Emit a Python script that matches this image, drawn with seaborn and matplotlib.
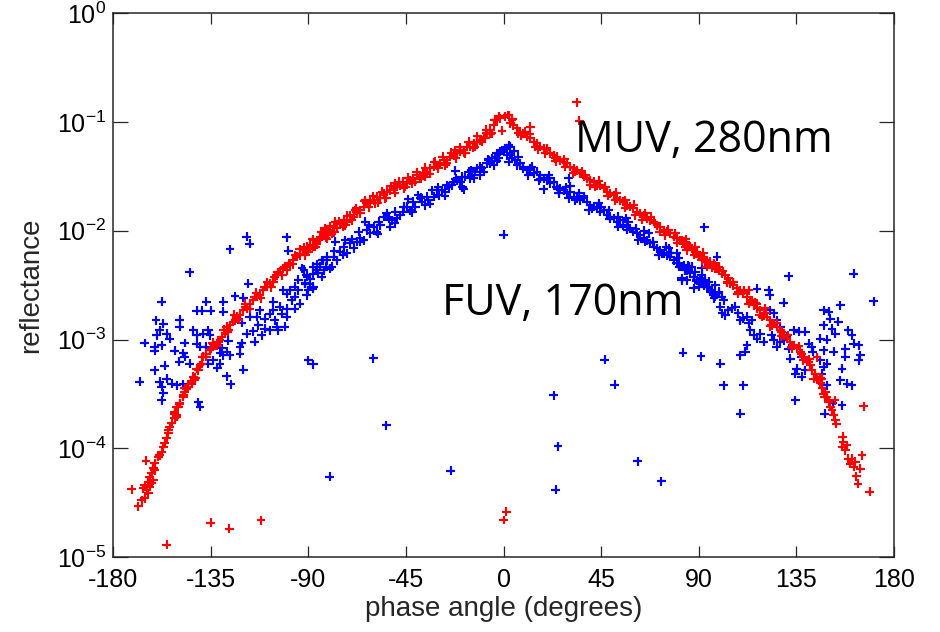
import numpy as np
import pandas as pd
import matplotlib
matplotlib.use("Agg")
import matplotlib.pyplot as plt
import seaborn as sns
from matplotlib.ticker import NullLocator

# ---------------- data (angle in degrees, log10 reflectance) ----------------
# MUV 280 nm (red)
muv_left_angle = [
    -93.7, -92.2, -90.6, -89.1, -87.6, -86.0, -84.5, -83.0, -81.4, -79.9,
    -78.3, -76.8, -75.3, -73.7, -72.2, -70.7, -69.1, -67.6, -66.1, -64.5,
    -63.0, -61.5, -59.9, -58.4, -56.8, -55.3, -53.8, -52.2, -50.7, -49.2,
    -47.6, -46.1, -44.5, -43.0, -41.5, -39.9, -38.4, -36.9, -35.3, -33.8,
    -32.2, -30.7, -29.2, -27.6, -26.1, -24.6, -23.0, -21.5, -20.0, -18.4,
    -16.9, -15.4, -13.8, -12.3, -10.7, -9.2, -7.7, -6.1, -4.6, -3.1,
    -2.3, -1.5,
    -91.4, -86.8, -82.2, -77.6, -73.0, -68.3, -63.7, -59.1, -54.5, -49.9,
    -45.3, -40.7, -36.1, -31.5, -26.9, -22.3, -17.7, -13.1, -8.4, -5.4,
    -92.0, -90.0, -88.0, -86.0, -84.0, -82.0, -80.0, -78.0, -76.0, -74.0,
    -72.0, -70.0, -68.0, -66.0, -64.0, -62.0, -60.0, -58.0, -56.0, -54.0,
    -52.0, -50.0, -48.0, -46.0, -44.0, -42.0, -40.0, -38.0, -36.0, -34.0,
    -32.0, -30.0, -28.0, -26.0, -24.0, -22.0, -20.0, -18.0, -16.0, -14.0,
    -12.0, -10.0, -8.0, -6.0, -4.0,
]
muv_left_log = [
    -2.224, -2.178, -2.147, -2.162, -2.086, -2.101, -2.055, -2.024, -2.040, -1.994,
    -1.963, -1.978, -1.932, -1.902, -1.917, -1.856, -1.871, -1.825, -1.810, -1.779,
    -1.748, -1.733, -1.718, -1.687, -1.702, -1.656, -1.641, -1.626, -1.610, -1.595,
    -1.580, -1.549, -1.564, -1.534, -1.518, -1.488, -1.503, -1.472, -1.457, -1.426,
    -1.411, -1.396, -1.380, -1.350, -1.350, -1.319, -1.304, -1.288, -1.273, -1.258,
    -1.227, -1.227, -1.196, -1.181, -1.166, -1.135, -1.104, -1.074, -1.028, -0.982,
    -0.945, -0.966,
    -2.224, -2.147, -1.978, -1.917, -1.948, -1.810, -1.718, -1.748, -1.702, -1.564,
    -1.595, -1.549, -1.503, -1.365, -1.396, -1.258, -1.288, -1.227, -1.150, -1.104,
    -2.150, -2.195, -2.080, -2.125, -2.010, -2.065, -1.960, -2.015, -1.910, -1.965,
    -1.860, -1.905, -1.790, -1.840, -1.730, -1.785, -1.680, -1.740, -1.640, -1.695,
    -1.590, -1.650, -1.550, -1.610, -1.510, -1.565, -1.460, -1.520, -1.420, -1.475,
    -1.370, -1.425, -1.320, -1.380, -1.280, -1.335, -1.230, -1.285, -1.180, -1.235,
    -1.130, -1.180, -1.070, -1.110, -0.980,
]
muv_wing_angle = [
    -79.2, -81.5, -83.8, -86.1, -87.7, -89.2, -90.8, -92.3, -93.8, -95.4,
    -96.9, -98.4, -100.0, -101.5, -103.1, -104.6, -106.1, -107.7, -109.2, -110.7,
    -112.3, -113.8, -115.3, -116.9, -118.4, -120.0, -121.5, -123.0, -124.6, -126.1,
    -126.9, -128.4, -129.9, -130.7, -132.3, -133.8, -135.3, -136.9, -138.4, -139.9,
    -140.7, -142.2, -143.8, -145.3, -146.9, -147.6, -149.2, -150.7, -151.5, -150.7,
    -81.0, -85.4, -90.0, -96.1, -100.8, -105.4, -110.0, -114.6, -119.2, -123.8,
    -127.6, -131.5, -134.6, -139.2, -141.5, -143.0, -146.1,
    -143.8, -145.3, -146.9, -147.6, -149.2, -149.9, -151.5, -150.7, -151.5, -153.0,
    -153.8, -154.5, -154.5, -155.3, -156.1, -156.8, -157.6, -158.4, -159.2, -160.7,
    -161.5, -162.2, -163.0, -161.5, -163.8, -165.3, -166.1, -164.5, -163.8, -165.3,
    -166.8, -168.4, -171.4, -164.8, -134.9, -126.4, -111.8, -155.3, -163.0, -162.2, -160.7,
    -94.0, -97.0, -99.0, -102.0, -104.0, -107.0, -109.0, -112.0, -114.0, -117.0,
    -119.0, -122.0, -124.0, -127.0, -129.0, -132.0, -134.0, -137.0, -139.0, -142.0, -144.0,
]
muv_wing_log = [
    -2.025, -2.071, -2.055, -2.101, -2.147, -2.132, -2.193, -2.178, -2.209, -2.239,
    -2.270, -2.316, -2.362, -2.347, -2.377, -2.408, -2.469, -2.485, -2.515, -2.546,
    -2.592, -2.607, -2.638, -2.669, -2.715, -2.730, -2.776, -2.791, -2.837, -2.868,
    -2.914, -2.945, -2.975, -3.006, -3.052, -3.067, -3.098, -3.129, -3.159, -3.236,
    -3.282, -3.374, -3.405, -3.435, -3.481, -3.527, -3.589, -3.620, -3.681, -3.712,
    -2.040, -2.086, -2.163, -2.224, -2.331, -2.423, -2.515, -2.607, -2.699, -2.822,
    -2.883, -3.021, -3.083, -3.221, -3.267, -3.343, -3.451,
    -3.404, -3.435, -3.450, -3.512, -3.588, -3.619, -3.665, -3.696, -3.726, -3.772,
    -3.803, -3.834, -3.864, -3.910, -3.956, -3.987, -4.033, -4.064, -4.079, -4.140,
    -4.186, -4.232, -4.263, -4.294, -4.309, -4.340, -4.370, -4.386, -4.416, -4.462,
    -4.478, -4.533, -4.376, -4.113, -4.683, -4.741, -4.662, -4.886, -4.355, -4.324, -4.202,
    -2.170, -2.310, -2.300, -2.410, -2.380, -2.520, -2.470, -2.620, -2.570, -2.720,
    -2.670, -2.820, -2.770, -2.930, -2.910, -3.060, -3.030, -3.160, -3.160, -3.350, -3.380,
]
muv_peak_angle = [-0.7, 33.8, 34.9, 1.25, 0.02, 1.85]
muv_peak_log = [-1.080, -0.820, -0.988, -4.585, -4.659, -0.935]
muv_right_angle = [
    0.8, 2.3, 3.1, 4.6, 6.2, 7.7, 9.2, 10.8, 12.3, 13.9,
    15.4, 16.9, 18.5, 20.0, 21.5, 23.1, 24.6, 26.1, 27.7, 29.2,
    30.8, 32.3, 33.8, 35.4, 36.9, 38.4, 40.0, 41.5, 43.0, 44.6,
    46.1, 47.7, 49.2, 50.7, 52.3, 53.8, 55.3, 56.9, 58.4, 59.9,
    61.5, 63.0, 64.6, 66.1, 67.6, 69.2, 70.7, 72.2, 73.8, 75.3,
    76.8, 78.4, 79.9, 81.5, 83.0, 84.5, 86.1, 87.6, 89.1, 90.7,
    92.2, 93.7, 95.3, 96.8, 99.1, 12.3,
    3.9, 6.9, 10.0, 14.6, 19.2, 23.8, 28.4, 33.1, 37.7, 42.3,
    46.9, 51.5, 56.1, 60.7, 65.3, 69.9, 74.5, 79.2, 83.8, 88.4, 93.0, 97.6,
    4.0, 8.0, 12.0, 16.0, 20.0, 24.0, 28.0, 32.0, 36.0, 40.0,
    44.0, 48.0, 52.0, 56.0, 60.0, 64.0, 68.0, 72.0, 76.0, 80.0,
    84.0, 88.0, 92.0, 96.0,
]
muv_right_log = [
    -0.951, -0.936, -1.012, -1.028, -1.058, -1.089, -1.104, -1.135, -1.150, -1.181,
    -1.196, -1.227, -1.242, -1.258, -1.288, -1.304, -1.319, -1.350, -1.365, -1.380,
    -1.411, -1.426, -1.442, -1.472, -1.503, -1.518, -1.534, -1.549, -1.580, -1.580,
    -1.610, -1.641, -1.656, -1.672, -1.702, -1.718, -1.733, -1.764, -1.779, -1.794,
    -1.825, -1.840, -1.856, -1.886, -1.902, -1.917, -1.948, -1.963, -1.994, -2.009,
    -2.024, -2.055, -2.070, -2.086, -2.101, -2.132, -2.147, -2.178, -2.193, -2.224,
    -2.239, -2.270, -2.285, -2.300, -2.331, -1.043,
    -0.982, -1.104, -1.089, -1.227, -1.288, -1.334, -1.411, -1.457, -1.488, -1.595,
    -1.595, -1.718, -1.718, -1.856, -1.840, -1.932, -2.040, -2.024, -2.147, -2.147, -2.285, -2.346,
    -0.970, -1.120, -1.110, -1.250, -1.240, -1.360, -1.340, -1.470, -1.450, -1.580,
    -1.540, -1.680, -1.650, -1.790, -1.760, -1.900, -1.870, -2.010, -1.990, -2.110,
    -2.080, -2.220, -2.200, -2.340,
]
muv_rwing_angle = [
    82.2, 83.8, 85.3, 86.8, 88.4, 89.9, 91.4, 93.0, 94.5, 96.1,
    97.6, 99.1, 100.7, 102.2, 103.7, 104.5, 106.0, 107.6, 109.1, 110.6,
    112.2, 113.0, 113.7, 115.3, 116.8, 118.3, 119.9, 121.4, 122.9, 124.5,
    126.0, 127.6, 129.1, 130.6, 132.2, 133.7, 135.2, 136.8, 138.3, 139.8,
    141.4, 142.1, 143.7, 144.5, 146.0, 146.8, 147.5, 149.1, 149.8, 150.6,
    151.4, 152.1, 152.9, 153.4,
    156.4, 156.7, 156.0, 158.3, 157.5, 159.0, 160.6, 159.8, 161.4, 162.1,
    164.4, 162.6, 163.4, 168.7, 165.2,
    144.5, 166.0, 152.6, 146.8, 116.8, 120.6,
    84.5, 89.1, 93.7, 98.4, 103.0, 108.3, 114.5, 119.1, 123.7, 128.3,
    132.9, 137.5, 140.6, 145.2, 148.3,
    101.0, 103.0, 106.0, 108.0, 111.0, 113.0, 116.0, 118.0, 121.0, 123.0,
    126.0, 128.0, 131.0, 133.0, 136.0, 138.0, 141.0, 143.0, 146.0, 148.0,
]
muv_rwing_log = [
    -2.086, -2.116, -2.132, -2.162, -2.193, -2.239, -2.270, -2.285, -2.301, -2.331,
    -2.316, -2.362, -2.393, -2.408, -2.438, -2.484, -2.500, -2.530, -2.546, -2.576,
    -2.607, -2.546, -2.653, -2.684, -2.714, -2.730, -2.776, -2.791, -2.822, -2.852,
    -2.883, -2.914, -2.960, -2.990, -3.021, -3.052, -3.082, -3.113, -3.159, -3.190,
    -3.236, -3.282, -3.313, -3.358, -3.404, -3.450, -3.497, -3.527, -3.573, -3.619,
    -3.650, -3.696, -3.742, -3.773,
    -3.895, -3.941, -3.987, -3.972, -4.018, -4.095, -4.095, -4.141, -4.171, -4.125,
    -4.187, -4.257, -4.325, -4.401, -4.064,
    -3.165, -3.613, -3.558, -3.359, -2.669, -2.714,
    -2.178, -2.209, -2.331, -2.347, -2.469, -2.561, -2.638, -2.791, -2.868, -2.929,
    -3.067, -3.129, -3.205, -3.374, -3.481,
    -2.370, -2.480, -2.470, -2.580, -2.550, -2.670, -2.660, -2.770, -2.760, -2.880,
    -2.850, -2.970, -2.960, -3.080, -3.060, -3.190, -3.180, -3.360, -3.350, -3.530,
]

# FUV 170 nm (blue)
fuv_lwing_angle = [
    -118.4, -116.9, -100.0, -99.2, -126.1, -144.6, -117.7, -157.6, -136.9, -129.2,
    -123.8, -120.0, -141.5, -139.2, -135.0, -129.2, -160.2, -156.8, -149.2, -149.2,
    -158.4, -159.9, -155.3, -153.8, -143.0, -141.5, -136.1, -135.3, -138.4, -165.3,
    -160.7, -157.6, -160.7, -151.5, -147.6, -146.9, -141.5, -139.9, -136.9, -133.8,
    -146.9, -149.5, -144.6, -136.1, -133.8, -130.7, -132.0, -160.7, -156.1, -155.3,
    -158.4, -153.0, -150.7, -157.6, -156.8, -157.6, -167.6, -147.6, -140.7, -139.9,
    -127.6, -125.8, -120.0, -121.5, -121.5, -120.7, -126.9, -126.1, -127.6, -129.2,
    -130.7, -129.9, -120.7, -118.4, -115.4, -113.1, -111.5, -114.6, -113.8, -116.9,
    -112.3, -110.0, -106.1, -107.7, -105.4, -103.8, -100.8, -103.1, -100.0, -100.0,
    -97.7, -96.2, -96.2, -94.6, -91.5, -90.8, -88.0, -90.8, -87.7, -86.2,
    -84.6, -81.5, -80.0, -83.8, -83.4, -90.0, -87.7, -89.2, -94.6, -93.8,
    -96.2, -100.0, -107.7, -110.0, -104.6, -102.3, -106.1, -101.5, -98.5, -92.0,
]
fuv_lwing_log = [
    -2.055, -2.117, -2.061, -2.184, -2.169, -2.383, -2.485, -2.653, -2.653, -2.653,
    -2.601, -2.614, -2.736, -2.736, -2.736, -2.745, -2.822, -2.853, -2.816, -2.883,
    -2.914, -2.960, -2.945, -2.991, -2.914, -2.960, -2.914, -2.960, -2.945, -3.031,
    -3.067, -3.052, -3.104, -3.104, -3.123, -3.159, -3.037, -3.067, -3.067, -3.037,
    -3.031, -3.205, -3.221, -3.221, -3.190, -3.221, -3.258, -3.282, -3.242, -3.359,
    -3.389, -3.405, -3.420, -3.435, -3.491, -3.558, -3.389, -3.411, -3.574, -3.620,
    -3.337, -3.411, -3.279, -3.129, -3.067, -3.031, -3.012, -3.144, -3.113, -3.144,
    -3.123, -3.080, -2.847, -2.945, -2.923, -2.868, -2.960, -3.021, -2.791, -2.791,
    -2.730, -2.807, -2.653, -2.761, -2.822, -2.914, -2.883, -2.699, -2.715, -2.577,
    -2.638, -2.607, -2.515, -2.448, -2.485, -2.592, -2.531, -2.408, -2.393, -2.362,
    -2.331, -2.270, -2.347, -2.423, -2.270, -3.190, -3.227, -2.485, -2.546, -2.669,
    -2.715, -2.791, -2.914, -2.899, -2.883, -2.761, -2.730, -2.546, -2.546, -2.356,
]
fuv_left_angle = [
    -92.9, -91.4, -89.9, -87.6, -87.6, -85.3, -83.7, -81.4, -79.1, -78.3,
    -77.6, -75.3, -73.7, -72.2, -70.7, -69.1, -66.8, -66.0, -64.5, -63.7,
    -61.4, -59.9, -58.4, -56.8, -55.3, -53.8, -52.2, -51.5, -49.2, -47.6,
    -46.1, -43.8, -43.0, -40.7, -39.2, -37.6, -36.1, -34.6, -33.0, -32.2,
    -29.9, -28.4, -26.9, -25.3, -23.8, -22.3, -21.5, -20.0, -18.4, -17.6,
    -16.1, -14.6, -13.8, -12.3, -10.7, -9.2, -7.7, -6.9, -5.4, -4.6,
    -3.1, -1.5, 0.0, 2.3, 3.1, 0.0,
    -90.6, -82.9, -76.8, -73.0, -67.6, -63.0, -57.6, -53.0, -49.9, -44.5,
    -41.5, -38.4, -35.3, -30.7, -26.1, -23.0, -19.2, -15.3, -13.1, -10.0, -6.1, -3.8, -2.3,
    -89.0, -86.0, -82.0, -78.0, -74.0, -70.0, -66.0, -62.0, -58.0, -54.0,
    -50.0, -46.0, -42.0, -38.0, -34.0, -30.0, -27.0, -22.0, -19.0, -15.0,
    -11.0, -7.0, -3.0,
]
fuv_left_log = [
    -2.346, -2.484, -2.546, -2.331, -2.515, -2.392, -2.270, -2.239, -2.331, -2.239,
    -2.101, -2.193, -2.147, -2.208, -2.116, -2.162, -2.009, -2.070, -2.086, -1.917,
    -2.024, -1.963, -2.009, -1.948, -1.871, -1.840, -1.963, -1.902, -1.886, -1.856,
    -1.825, -1.712, -1.810, -1.779, -1.672, -1.733, -1.764, -1.718, -1.626, -1.687,
    -1.672, -1.626, -1.641, -1.595, -1.580, -1.448, -1.534, -1.549, -1.620, -1.503,
    -1.457, -1.488, -1.518, -1.426, -1.411, -1.457, -1.380, -1.350, -1.334, -1.396,
    -1.288, -1.273, -1.258, -1.212, -1.288, -2.037,
    -2.423, -2.362, -2.270, -2.086, -2.101, -1.994, -1.917, -1.886, -1.825, -1.779,
    -1.733, -1.702, -1.687, -1.626, -1.580, -1.549, -1.503, -1.518, -1.457, -1.426, -1.380, -1.319, -1.334,
    -2.440, -2.310, -2.330, -2.190, -2.220, -2.080, -2.100, -1.950, -2.030, -1.870,
    -1.930, -1.780, -1.830, -1.690, -1.750, -1.600, -1.680, -1.520, -1.600, -1.440,
    -1.490, -1.340, -1.360,
]
fuv_stray_angle = [-60.1, -54.1, -80.2, -24.3, 23.1, 25.1, 24.0, 46.6, 51.2, 61.9, 72.7]
fuv_stray_log = [-3.171, -3.788, -4.263, -4.208, -3.512, -3.981, -4.380, -3.184, -3.414, -4.119, -4.305]
fuv_right_angle = [
    -0.8, 0.8, 1.6, 3.1, 3.9, 5.4, 6.2, 7.7, 9.2, 10.8,
    12.3, 13.9, 15.4, 16.9, 18.5, 20.0, 21.5, 23.1, 24.6, 26.1,
    27.7, 29.2, 30.8, 32.3, 33.8, 35.4, 36.9, 38.4, 40.0, 41.5,
    43.0, 44.6, 46.1, 47.7, 49.2, 50.7, 52.3, 53.8, 55.3, 56.9,
    58.4, 59.9, 61.5, 63.0, 64.6, 66.1, 67.6, 69.2, 70.7, 72.2,
    73.8, 75.3, 76.8, 78.4, 79.9, 81.5, 83.0, 84.5, 86.1, 87.6,
    89.1, 90.7, 92.2, 93.7, 95.3, 97.6, 99.1,
    30.0, 30.8, 18.5, 56.6, 64.9, 75.0, 79.9, 82.2, 87.6, 91.4, 98.4, 92.5,
    2.3, 6.9, 11.5, 16.2, 20.8, 25.4, 30.0, 34.6, 39.2, 43.8,
    48.4, 53.0, 57.6, 62.2, 66.9, 71.5, 76.1, 80.7, 85.3, 89.9, 94.5,
    5.0, 9.0, 13.0, 17.0, 21.0, 25.0, 29.0, 33.0, 37.0, 41.0,
    45.0, 49.0, 53.0, 57.0, 61.0, 65.0, 69.0, 73.0, 77.0, 81.0,
    85.0, 89.0, 93.0, 97.0,
]
fuv_right_log = [
    -1.258, -1.242, -1.304, -1.227, -1.334, -1.350, -1.396, -1.380, -1.411, -1.442,
    -1.426, -1.472, -1.457, -1.488, -1.518, -1.534, -1.564, -1.549, -1.595, -1.610,
    -1.626, -1.656, -1.641, -1.687, -1.702, -1.718, -1.702, -1.733, -1.764, -1.779,
    -1.794, -1.825, -1.810, -1.856, -1.871, -1.886, -1.917, -1.902, -1.948, -1.963,
    -1.978, -2.009, -2.024, -2.040, -2.070, -2.086, -2.116, -2.147, -2.162, -2.178,
    -2.208, -2.224, -2.239, -2.270, -2.300, -2.331, -2.316, -2.362, -2.392, -2.423,
    -2.454, -2.438, -2.500, -2.515, -2.561, -2.607, -2.576,
    -1.518, -1.589, -1.619, -1.886, -2.000, -2.147, -2.208, -2.454, -2.530, -2.346, -2.239, -1.969,
    -1.365, -1.319, -1.488, -1.534, -1.488, -1.656, -1.702, -1.656, -1.810, -1.748,
    -1.810, -1.963, -1.917, -2.086, -2.024, -2.224, -2.162, -2.254, -2.331, -2.515, -2.469,
    -1.270, -1.430, -1.410, -1.520, -1.510, -1.620, -1.600, -1.720, -1.680, -1.800,
    -1.780, -1.890, -1.870, -1.990, -1.980, -2.100, -2.100, -2.210, -2.200, -2.330,
    -2.320, -2.460, -2.450, -2.620,
]
fuv_rwing_angle = [
    82.2, 83.8, 85.3, 86.8, 88.4, 82.2, 84.5, 87.6, 89.9, 91.4,
    93.0, 94.5, 96.1, 96.8, 97.6, 99.1, 100.7, 101.4, 99.9, 100.7,
    102.2, 103.7, 105.3, 106.8, 108.3, 109.1, 110.6, 112.2, 113.0, 113.7,
    114.5, 115.3, 116.8, 118.3, 119.9, 112.2, 111.4, 109.1, 116.8, 122.2,
    122.6, 129.1, 131.4, 122.9, 124.5, 126.0, 127.6, 123.7, 124.5, 126.0,
    127.6, 129.1, 130.6, 131.4, 133.7, 136.0, 139.1, 132.2, 135.2, 139.1,
    137.5, 140.6, 142.1, 142.6, 146.0, 147.5, 149.1, 146.8, 149.1, 147.5,
    149.8, 155.2, 150.6, 154.4, 147.5, 151.4, 152.9, 146.0, 149.1, 147.5,
    152.1, 157.5, 157.5, 161.4, 163.7, 164.4, 163.7, 156.0, 155.2, 158.3,
    160.6, 159.0, 160.6, 161.4, 170.6, 134.5, 148.0, 156.0, 151.8, 109.1,
    101.4, 110.6, 99.9, 91.0, 82.7, 137.5, 134.5,
]
fuv_rwing_log = [
    -2.331, -2.362, -2.347, -2.331, -2.377, -2.438, -2.454, -2.423, -2.484, -2.408,
    -2.469, -2.515, -2.546, -2.592, -2.500, -2.561, -2.607, -2.638, -2.699, -2.760,
    -2.776, -2.730, -2.714, -2.699, -2.760, -2.822, -2.806, -2.791, -2.852, -2.914,
    -2.822, -2.960, -2.991, -2.945, -3.021, -3.052, -3.113, -3.144, -2.531, -2.546,
    -2.592, -2.662, -2.417, -2.730, -2.760, -2.822, -2.883, -2.960, -3.006, -3.067,
    -3.021, -3.006, -2.975, -3.083, -2.914, -2.929, -2.929, -3.175, -3.267, -3.282,
    -3.343, -3.037, -3.067, -3.113, -3.190, -3.251, -3.221, -3.313, -3.420, -2.730,
    -2.745, -2.684, -2.807, -2.837, -2.868, -2.899, -2.945, -2.991, -3.000, -3.098,
    -3.113, -3.083, -3.159, -3.037, -3.052, -3.144, -3.190, -3.267, -3.374, -3.405,
    -3.420, -2.914, -2.960, -2.393, -2.647, -3.558, -3.681, -3.604, -3.583, -3.681,
    -3.420, -3.420, -3.221, -3.153, -3.122, -3.159, -3.313,
]

x_ticks = [-180, -135, -90, -45, 0, 45, 90, 135, 180]
y_ticks = [1e-5, 1e-4, 1e-3, 1e-2, 1e-1, 1e0]
y_tick_labels = [r"$\mathregular{10^{-5}}$", r"$\mathregular{10^{-4}}$", r"$\mathregular{10^{-3}}$",
                 r"$\mathregular{10^{-2}}$", r"$\mathregular{10^{-1}}$", r"$\mathregular{10^{0}}$"]
band_labels = ["FUV, 170nm", "MUV, 280nm"]

# ---------------- build table ----------------
fuv_angle = fuv_lwing_angle + fuv_left_angle + fuv_stray_angle + fuv_right_angle + fuv_rwing_angle
fuv_log = fuv_lwing_log + fuv_left_log + fuv_stray_log + fuv_right_log + fuv_rwing_log
muv_angle = muv_left_angle + muv_wing_angle + muv_peak_angle + muv_right_angle + muv_rwing_angle
muv_log = muv_left_log + muv_wing_log + muv_peak_log + muv_right_log + muv_rwing_log

df = pd.concat([
    pd.DataFrame({"angle": fuv_angle, "logr": fuv_log, "band": "FUV"}),
    pd.DataFrame({"angle": muv_angle, "logr": muv_log, "band": "MUV"}),
], ignore_index=True)
df["reflectance"] = np.power(10.0, df["logr"])

# ---------------- style ----------------
sns.set_style("white")
plt.rcParams["font.family"] = ["Liberation Sans", "DejaVu Sans"]
plt.rcParams["mathtext.fontset"] = "custom"
plt.rcParams["mathtext.rm"] = "Liberation Sans"
plt.rcParams["mathtext.it"] = "Liberation Sans:italic"
plt.rcParams["mathtext.bf"] = "Liberation Sans:bold"

fig = plt.figure(figsize=(9.4, 6.32), dpi=100)
ax = fig.add_axes([0.1202, 0.1187, 0.8309, 0.8602])

sns.scatterplot(data=df, x="angle", y="reflectance", hue="band",
                palette={"FUV": "#0000ff", "MUV": "#ff0000"},
                marker="+", s=40, linewidth=1.55, legend=False, ax=ax, zorder=3)

ax.set_yscale("log")
ax.set_xlim(-180, 180)
ax.set_ylim(1e-5, 1e0)
ax.set_xticks(x_ticks)
ax.set_xticklabels([str(t) for t in x_ticks])
ax.set_yticks(y_ticks)
ax.set_yticklabels(y_tick_labels)
ax.yaxis.set_minor_locator(NullLocator())
ax.xaxis.set_minor_locator(NullLocator())

ax.tick_params(axis="both", which="major", direction="in",
               top=True, right=True, bottom=True, left=True,
               labelsize=18, width=0.9, color="#262626", labelcolor="black")
ax.tick_params(axis="x", length=7.7, pad=8)
ax.tick_params(axis="y", length=11, pad=5)
for sp in ax.spines.values():
    sp.set_linewidth(1.1)
    sp.set_color("#262626")
    sp.set_visible(True)

ax.set_xlabel("phase angle (degrees)", fontsize=20, labelpad=3)
ax.set_ylabel("reflectance", fontsize=20, labelpad=9)

ax.text(33.0, 10 ** -1.275, band_labels[1], fontfamily="Open Sans", fontsize=31,
        ha="left", va="baseline", color="black")
ax.text(-28.3, 10 ** -2.776, band_labels[0], fontfamily="Open Sans", fontsize=31,
        ha="left", va="baseline", color="black")

fig.savefig("out.png", dpi=100)
